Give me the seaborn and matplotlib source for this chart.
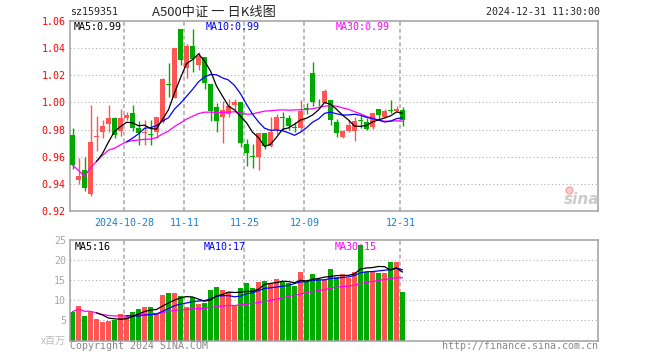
import numpy as np
import pandas as pd
import seaborn as sns
import matplotlib.pyplot as plt
import matplotlib.transforms as mtransforms

# trading days of the A500 ETF (sz159351)
dates = pd.bdate_range('2024-10-15', '2024-12-31')

opens = [0.976, 0.943, 0.950, 0.933, 0.9748, 0.978, 0.984, 0.9885, 0.979, 0.9885,
         0.992, 0.981, 0.9778, 0.977, 0.978, 0.9855, 1.0133, 1.0034, 1.054, 1.025,
         1.0416, 1.0275, 1.0333, 1.0135, 0.9963, 0.989, 0.9912, 0.998, 1.0002, 0.9691,
         0.9600, 0.9596, 0.9772, 0.968, 0.9797, 0.9892, 0.9885, 0.9817, 0.9814, 0.9957,
         1.0213, 1.0016, 0.9998, 1.0017, 0.9855, 0.9743, 0.9792, 0.9792, 0.9865, 0.9855,
         0.9816, 0.9951, 0.989, 0.9937, 0.9936, 0.9944]
highs = [0.981, 0.959, 0.960, 0.998, 0.990, 0.987, 0.998, 0.989, 0.995, 0.993,
         0.998, 0.986, 0.987, 0.987, 0.989, 1.018, 1.029, 1.040, 1.054, 1.043,
         1.054, 1.037, 1.0333, 1.0135, 0.9993, 1.001, 1.0025, 1.0025, 1.0002, 0.973,
         0.9694, 0.9772, 0.9772, 0.989, 0.9914, 0.9931, 0.9907, 0.9853, 1.0017, 0.9998,
         1.0297, 1.0027, 1.0098, 1.0017, 0.9875, 0.9797, 0.987, 0.989, 0.9907, 0.9887,
         0.992, 0.9951, 0.9951, 1.0017, 0.9973, 0.9963]
lows = [0.951, 0.940, 0.935, 0.931, 0.9645, 0.974, 0.978, 0.974, 0.975, 0.987,
        0.979, 0.969, 0.969, 0.969, 0.974, 0.9846, 1.004, 1.003, 1.0275, 1.018,
        1.0225, 1.0235, 1.010, 0.9865, 0.978, 0.970, 0.9895, 0.9944, 0.967, 0.953,
        0.952, 0.950, 0.966, 0.967, 0.9765, 0.9797, 0.9797, 0.9784, 0.9797, 0.9912,
        0.9973, 0.9973, 0.9998, 0.9833, 0.9743, 0.9735, 0.9784, 0.9718, 0.9809, 0.9797,
        0.9806, 0.987, 0.9882, 0.9919, 0.9929, 0.9826]
closes = [0.954, 0.946, 0.937, 0.971, 0.9752, 0.983, 0.9885, 0.976, 0.9885, 0.991,
          0.981, 0.9777, 0.9782, 0.976, 0.989, 1.017, 1.0130, 1.040, 1.031, 1.0414,
          1.0316, 1.034, 1.014, 0.994, 0.9865, 0.9944, 0.9973, 1.0002, 0.9703, 0.963,
          0.9597, 0.9772, 0.968, 0.978, 0.989, 0.9888, 0.9826, 0.9814, 0.9936, 0.9955,
          1.0005, 1.0014, 1.0086, 0.987, 0.9772, 0.9792, 0.9833, 0.9863, 0.9860, 0.9806,
          0.992, 0.9907, 0.9936, 0.9935, 0.9951, 0.987]
# volume, millions
volumes = [7.2, 8.5, 6.2, 7.2, 5.4, 4.5, 4.75, 5.2, 6.7, 6.0,
           7.2, 7.9, 8.4, 8.4, 6.8, 11.4, 11.9, 11.9, 11.2, 8.4,
           10.9, 9.2, 9.4, 12.7, 13.4, 12.7, 12.2, 8.9, 13.0, 14.4,
           13.0, 14.7, 14.9, 14.25, 15.4, 14.7, 14.25, 13.5, 17.2, 14.7,
           16.7, 15.25, 15.25, 17.9, 15.9, 16.7, 15.5, 17.2, 23.9, 17.2,
           17.2, 16.9, 16.9, 19.7, 19.7, 12.2]

tick_dates = ['2024-10-28', '2024-11-11', '2024-11-25', '2024-12-09', '2024-12-31']
tick_labels = ['2024-10-28', '11-11', '11-25', '12-09', '12-31']
price_ticks = [0.92, 0.94, 0.96, 0.98, 1.00, 1.02, 1.04, 1.06]
vol_ticks = [5, 10, 15, 20, 25]

df = pd.DataFrame({'date': dates, 'open': opens, 'high': highs, 'low': lows,
                   'close': closes, 'vol': volumes})
df['x'] = np.arange(len(df))
df['ma5'] = df['close'].rolling(5).mean()
df['ma10'] = df['close'].rolling(10).mean()
df['ma30'] = df['close'].rolling(30, min_periods=1).mean()
df['vma5'] = df['vol'].rolling(5).mean()
df['vma10'] = df['vol'].rolling(10).mean()
df['vma30'] = df['vol'].rolling(30, min_periods=1).mean()

RED = '#ff5555'
GREEN = '#00aa00'
cols = [RED if c >= o else GREEN for o, c in zip(df['open'], df['close'])]

sns.set_style('white')
plt.rcParams['font.family'] = ['DejaVu Sans Mono', 'Noto Sans CJK SC']
mono = 'DejaVu Sans Mono'
cjk = ['Noto Sans CJK SC', 'DejaVu Sans']
FS = 7.2

W, H = 660, 360
fig = plt.figure(figsize=(6.6, 3.6), dpi=100)
ax1 = fig.add_axes([70 / W, 1 - 211.3 / H, 528 / W, 190.6 / H])
ax2 = fig.add_axes([70 / W, 1 - 340.5 / H, 528 / W, 100.2 / H])


def px(x, y):
    return x / W, 1 - y / H


tick_pos = [df.index[df['date'] == pd.Timestamp(d)][0] - 0.35 for d in tick_dates]
xlim = (-0.42, 87.58)

# grids
for ax, ticks in ((ax1, price_ticks[1:-1]), (ax2, vol_ticks[:-1])):
    for t in ticks:
        ax.axhline(t, color='#aaaaaa', lw=0.75, ls=(0, (1, 2.5)), zorder=0)
    for t in tick_pos:
        ax.axvline(t, color='#b4b4b4', lw=1.3, ls=(0, (2.2, 1.6)), zorder=0)
    for s in ax.spines.values():
        s.set_color('#a0a0a0')
        s.set_linewidth(1.1)
    ax.set_xlim(*xlim)
    ax.tick_params(length=0)

# candles
ax1.vlines(df['x'], df['low'], df['high'], colors=cols, lw=1, zorder=2)
body = np.maximum((df['close'] - df['open']).abs(), 0.0007)
ax1.bar(df['x'], body, bottom=np.minimum(df['open'], df['close']), width=0.82,
        color=cols, linewidth=0, zorder=3)
sns.lineplot(data=df, x='x', y='ma30', ax=ax1, color='#ff00ff', lw=0.9, zorder=4)
sns.lineplot(data=df, x='x', y='ma10', ax=ax1, color='#0000ff', lw=0.9, zorder=4)
sns.lineplot(data=df, x='x', y='ma5', ax=ax1, color='black', lw=0.9, zorder=4)
ax1.set_ylim(0.92, 1.06)
ax1.set_yticks(price_ticks)
ax1.set_yticklabels([f'{p:.2f}' for p in price_ticks], color='#ff0000',
                    fontsize=FS, family=mono)
ax1.set_xticks(tick_pos)
ax1.set_xticklabels(tick_labels, color='#1a7fd0', fontsize=FS, family=mono)
ax1.tick_params(axis='y', pad=3)
ax1.tick_params(axis='x', pad=4.5)
ax1.set_xlabel('')
ax1.set_ylabel('')

# volume
ax2.bar(df['x'], df['vol'], width=0.82, color=cols, linewidth=0, zorder=2)
sns.lineplot(data=df, x='x', y='vma30', ax=ax2, color='#ff00ff', lw=0.9, zorder=4)
sns.lineplot(data=df, x='x', y='vma10', ax=ax2, color='#0000ff', lw=0.9, zorder=4)
sns.lineplot(data=df, x='x', y='vma5', ax=ax2, color='black', lw=0.9, zorder=4)
ax2.set_ylim(0, 25)
ax2.set_yticks(vol_ticks)
ax2.set_yticklabels([str(v) for v in vol_ticks], color='#a8a8a8',
                    fontsize=FS, family=mono)
ax2.tick_params(axis='y', pad=3)
ax2.set_xticks([])
ax2.set_xlabel('')
ax2.set_ylabel('')
trans = mtransforms.blended_transform_factory(fig.transFigure, ax2.transData)
ax2.text(66 / W, 0, 'x百万', transform=trans, ha='right', va='center',
         color='#b8b8b8', fontsize=FS, family=cjk)

# header
fig.text(*px(70, 12), 'sz159351', ha='left', va='center', fontsize=FS, family=mono)
fig.text(*px(152, 12), 'A500中证 一 日K线图', ha='left', va='center', fontsize=9.5,
         family=cjk)
fig.text(*px(600, 12), '2024-12-31 11:30:00', ha='right', va='center',
         fontsize=FS, family=mono)

fig.text(*px(74, 27), 'MA5:0.99', ha='left', va='center', fontsize=FS, family=mono,
         color='black')
fig.text(*px(206, 27), 'MA10:0.99', ha='left', va='center', fontsize=FS, family=mono,
         color='#0000ff')
fig.text(*px(336, 27), 'MA30:0.99', ha='left', va='center', fontsize=FS, family=mono,
         color='#ff00ff')

fig.text(*px(75, 247), 'MA5:16', ha='left', va='center', fontsize=FS, family=mono,
         color='black')
fig.text(*px(204, 247), 'MA10:17', ha='left', va='center', fontsize=FS, family=mono,
         color='#0000ff')
fig.text(*px(335, 247), 'MA30:15', ha='left', va='center', fontsize=FS, family=mono,
         color='#ff00ff')

# footer
fig.text(*px(70, 346), 'Copyright 2024 SINA.COM', ha='left', va='center',
         fontsize=FS, family=mono, color='#888888')
fig.text(*px(598, 346), 'http://finance.sina.com.cn', ha='right', va='center',
         fontsize=FS, family=mono, color='#888888')

# sina watermark
fig.text(*px(582, 199), 'sina', ha='center', va='center', fontsize=11,
         style='italic', weight='bold', family='DejaVu Sans', color='#cccccc')
ax1.plot([0.945], [0.11], 'o', transform=ax1.transAxes, ms=5, mfc='#f8cccc',
         mec='#f0a0a0', mew=0.8, zorder=5, clip_on=False)

fig.savefig('out.png', dpi=100)
